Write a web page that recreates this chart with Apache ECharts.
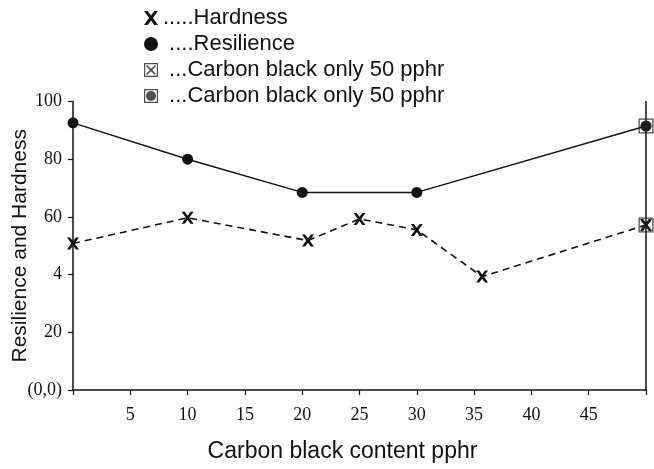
<!DOCTYPE html>
<html>
<head>
<meta charset="utf-8">
<script src="https://cdn.jsdelivr.net/npm/echarts@6/dist/echarts.min.js"></script>
<style>
  html, body { margin: 0; padding: 0; background: #fff; }
  #chart { width: 654px; height: 469px; }
</style>
</head>
<body>
<div id="chart"></div>
<script>
// values
const resilienceX = [0, 10, 20, 30, 50]
const resilience = [92.6, 80.0, 68.5, 68.5, 91.5]
const hardnessX = [0, 10, 20.5, 25, 30, 35.7, 50]
const hardness = [50.8, 59.7, 51.8, 59.3, 55.5, 39.3, 57.2]
const cbOnlyX = [50]
const cbOnlyHardness = [57.2]
const cbOnlyResilience = [91.5]
const yTickLabels = ['(0,0)', '20', '4', '60', '80', '100']

const legendText = {
  'Hardness': '.....Hardness',
  'Resilience': ' ....Resilience',
  'CB only hardness': ' ...Carbon black only 50 pphr',
  'CB only resilience': ' ...Carbon black only 50 pphr',
}

const xIcon = 'path://M0,0 L3.4,0 L6.5,4.2 L9.6,0 L13,0 L8.3,6.5 L13,13 L9.6,13 L6.5,8.8 L3.4,13 L0,13 L4.7,6.5 Z'
const boxXIcon = 'path://M0,0 L14,0 L14,14 L0,14 Z M1.2,1.2 L1.2,12.8 L12.8,12.8 L12.8,1.2 Z ' +
  'M3,2 L7,5.8 L11,2 L12,3 L8.2,7 L12,11 L11,12 L7,8.2 L3,12 L2,11 L5.8,7 L2,3 Z'
const boxDotIcon = 'path://M0,0 L14,0 L14,14 L0,14 Z M1.2,1.2 L1.2,12.8 L12.8,12.8 L12.8,1.2 Z ' +
  'M7,2 A5,5 0 1,1 6.99,2 Z'

const pairs = (xs, ys) => xs.map((x, i) => [x, ys[i]])

const chart = echarts.init(document.getElementById('chart'))

const option = {
  animation: false,
  backgroundColor: '#fff',
  grid: { left: 73, right: 8, top: 101.5, bottom: 79, outerBoundsMode: 'none' },
  legend: {
    orient: 'vertical',
    left: 139,
    top: 2,
    itemWidth: 14,
    itemHeight: 14,
    itemGap: 4,
    selectedMode: false,
    data: [
      { name: 'Hardness', icon: xIcon },
      { name: 'Resilience', icon: 'circle' },
      { name: 'CB only hardness', icon: boxXIcon },
      { name: 'CB only resilience', icon: boxDotIcon },
    ],
    formatter: (name) => legendText[name],
    textStyle: {
      fontFamily: 'Liberation Sans',
      fontSize: 22,
      lineHeight: 22,
      color: '#111',
    },
  },
  xAxis: {
    type: 'value',
    min: 0,
    max: 50,
    interval: 5,
    name: 'Carbon black content pphr',
    nameLocation: 'middle',
    nameGap: 50,
    nameTextStyle: {
      fontFamily: 'Liberation Sans',
      fontSize: 23,
      color: '#111',
      padding: [0, 34, 0, 0],
    },
    axisLine: { lineStyle: { color: '#111', width: 1.5 } },
    axisTick: { length: 5, lineStyle: { color: '#111', width: 1.2 } },
    axisLabel: {
      margin: 16,
      fontFamily: 'Liberation Serif',
      fontSize: 18,
      color: '#111',
      formatter: (v) => (v === 0 || v === 50 ? '' : String(v)),
    },
    splitLine: { show: false },
  },
  yAxis: [
    {
      type: 'value',
      min: 0,
      max: 100,
      interval: 20,
      name: 'Resilience and Hardness',
      nameLocation: 'middle',
      nameGap: 42,
      nameMoveOverlap: false,
      nameTextStyle: {
        fontFamily: 'Liberation Sans',
        fontSize: 21,
        color: '#111',
      },
      axisLine: { show: true, lineStyle: { color: '#111', width: 1.5 } },
      axisTick: { show: true, length: 5, lineStyle: { color: '#111', width: 1.2 } },
      axisLabel: {
        margin: 11,
        fontFamily: 'Liberation Serif',
        fontSize: 18,
        color: '#111',
        formatter: (v) => yTickLabels[Math.round(v / 20)],
      },
      splitLine: { show: false },
    },
    {
      type: 'value',
      position: 'right',
      min: 0,
      max: 100,
      interval: 20,
      axisLine: { show: true, lineStyle: { color: '#111', width: 1.5 } },
      axisTick: { show: false },
      axisLabel: { show: false },
      splitLine: { show: false },
    },
  ],
  series: [
    {
      name: 'Hardness',
      type: 'line',
      data: pairs(hardnessX, hardness),
      symbol: xIcon,
      symbolSize: 12,
      itemStyle: { color: '#111' },
      lineStyle: { color: '#111', width: 1.6, type: [7, 5] },
      z: 3,
    },
    {
      name: 'Resilience',
      type: 'line',
      data: pairs(resilienceX, resilience),
      symbol: 'circle',
      symbolSize: 11,
      itemStyle: { color: '#111' },
      lineStyle: { color: '#111', width: 1.5 },
      z: 3,
    },
    {
      name: 'CB only hardness',
      type: 'scatter',
      data: pairs(cbOnlyX, cbOnlyHardness),
      symbol: boxXIcon,
      symbolSize: 15,
      itemStyle: { color: '#222' },
      z: 4,
    },
    {
      name: 'CB only resilience',
      type: 'scatter',
      data: pairs(cbOnlyX, cbOnlyResilience),
      symbol: boxDotIcon,
      symbolSize: 15,
      itemStyle: { color: '#222' },
      z: 4,
    },
  ],
}

chart.setOption(option)
</script>
</body>
</html>
